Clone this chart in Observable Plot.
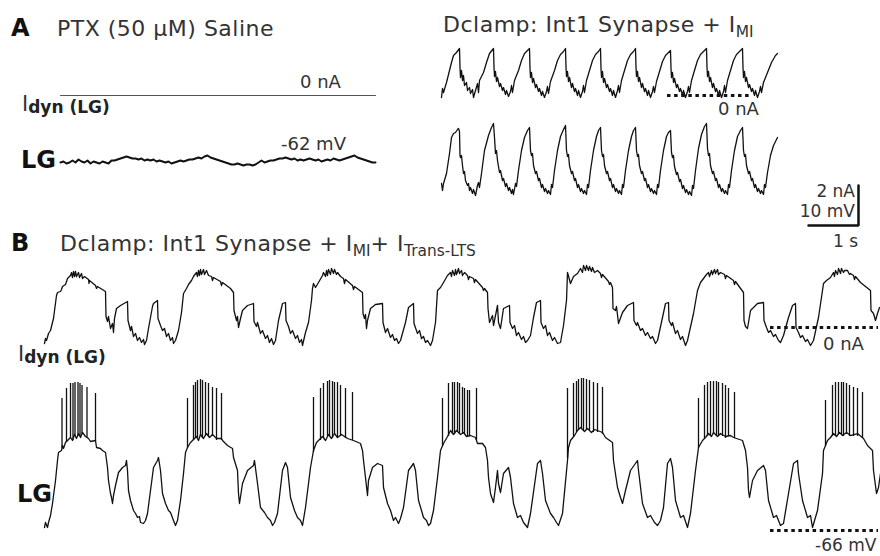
<!DOCTYPE html>
<html>
<head>
<meta charset="utf-8">
<script src="https://cdn.jsdelivr.net/npm/d3@7"></script>
<script src="https://cdn.jsdelivr.net/npm/@observablehq/plot@0.6"></script>
<style>
  body { margin: 0; background: #fff; }
  #fig { position: relative; width: 880px; height: 556px; overflow: hidden; background: #fff;
         font-family: "DejaVu Sans", sans-serif; color: #333; }
  .lbl { position: absolute; white-space: nowrap; line-height: 1; }
  .title { letter-spacing: 0.5px; }
  .bold { font-weight: bold; color: #111; }
  .sub { position: relative; font-size: 0.7em; top: 0.3em; letter-spacing: 0; }
  .subb { position: relative; font-size: 0.81em; top: 0.12em; font-weight: bold; color: #222; }
</style>
</head>
<body>
<div id="fig"></div>
<script>
// ---------------------------------------------------------------------------
// Recorded traces. Time in s, current in nA, voltage in mV.
// ---------------------------------------------------------------------------

// A, left: PTX saline, no dynamic-clamp current, LG resting near -62 mV
const restIdyn = [[0.40, 0], [6.70, 0]];
const restLG_t0 = 0.40;   // s, first sample
const restLG_dt = 0.06;   // s, sample interval
const restLG_mV = [
  -62.25, -62, -62.5, -62.25, -61.75, -62.25, -61.5, -62, -62.25, -61.75,
  -62.5, -62, -62.25, -62.5, -62, -62.25, -62.5, -61.75, -61.75, -61.5,
  -61.25, -61, -60.75, -61, -61.25, -61.25, -61.5, -61.25, -61.75, -61.5,
  -61.75, -61.5, -62, -61.75, -62, -62.25, -62, -62.5, -62.25, -62,
  -61.75, -62, -61.75, -61.5, -61.5, -61.25, -61, -61.25, -60.75, -60.5,
  -61, -61.25, -61.5, -61.75, -62, -62.25, -62.5, -62.75, -62.75, -62.5,
  -62.75, -63, -62.75, -62.75, -63, -62.75, -62.25, -61.75, -62.25, -62,
  -61.75, -61.75, -61.5, -61.25, -61.25, -61, -61.25, -61.5, -61.25, -61.75,
  -61.5, -61.75, -61.5, -61.25, -61.5, -61.75, -61.5, -62, -61.75, -61.5,
  -61.75, -61.25, -61.5, -61.75, -61.5, -61.25, -61, -60.75, -60.5, -61,
  -61.25, -61.5, -61.75, -62, -62.25, -62.25
];

// A, right: Int1 synapse + I_MI
const miIdyn = [
  [0.10,-0.10],[0.12,0.35],[0.14,0.15],[0.20,0.65],[0.26,1.25],[0.30,1.65],[0.34,2.00],[0.40,2.15],[0.46,2.35],
  [0.47,1.40],[0.48,0.90],[0.50,1.25],[0.52,0.75],[0.54,1.00],[0.56,0.50],[0.60,0.65],[0.62,0.25],[0.66,0.40],
  [0.68,0.10],[0.72,0.30],[0.74,-0.10],[0.78,0.25],[0.82,0.60],[0.84,0.15],[0.86,0.75],[0.94,1.15],[1.00,1.65],
  [1.06,2.10],[1.14,2.35],
  [1.15,1.40],[1.16,0.95],[1.18,1.20],[1.20,0.70],[1.22,0.90],[1.26,0.45],[1.28,0.60],[1.32,0.25],[1.34,0.40],
  [1.38,0.05],[1.40,0.25],[1.44,-0.05],[1.48,0.20],[1.50,0.50],[1.52,0.15],[1.56,0.75],[1.64,1.25],[1.70,1.75],
  [1.76,2.10],[1.82,2.25],[1.86,2.35],
  [1.87,1.35],[1.88,0.90],[1.90,1.15],[1.92,0.65],[1.94,0.85],[1.98,0.40],[2.00,0.55],[2.04,0.20],[2.06,0.35],
  [2.10,0.00],[2.12,0.20],[2.16,-0.10],[2.20,0.20],[2.22,0.45],[2.24,0.10],[2.28,0.70],[2.36,1.25],[2.42,1.75],
  [2.48,2.05],[2.54,2.20],[2.58,2.35],
  [2.59,1.40],[2.60,0.95],[2.62,1.20],[2.64,0.70],[2.66,0.90],[2.70,0.40],[2.72,0.60],[2.76,0.20],[2.78,0.35],
  [2.82,0.00],[2.84,0.25],[2.88,-0.10],[2.92,0.20],[2.94,0.50],[2.96,0.15],[3.00,0.75],[3.06,1.25],[3.12,1.75],
  [3.18,2.05],[3.24,2.20],[3.28,2.35],
  [3.29,1.35],[3.30,0.90],[3.32,1.20],[3.34,0.65],[3.36,0.85],[3.40,0.40],[3.42,0.55],[3.46,0.20],[3.48,0.35],
  [3.52,0.00],[3.54,0.25],[3.58,-0.10],[3.62,0.25],[3.64,0.50],[3.66,0.15],[3.70,0.75],[3.76,1.25],[3.82,1.75],
  [3.88,2.05],[3.94,2.20],[3.98,2.35],
  [3.99,1.40],[4.00,0.95],[4.02,1.20],[4.04,0.70],[4.06,0.90],[4.10,0.40],[4.12,0.60],[4.16,0.20],[4.18,0.35],
  [4.22,0.00],[4.24,0.25],[4.28,-0.10],[4.32,0.20],[4.34,0.45],[4.36,0.15],[4.40,0.70],[4.46,1.20],[4.52,1.70],
  [4.58,2.00],[4.64,2.15],[4.68,2.25],
  [4.69,1.35],[4.70,0.90],[4.72,1.15],[4.74,0.65],[4.76,0.85],[4.80,0.40],[4.82,0.55],[4.86,0.20],[4.88,0.35],
  [4.92,0.00],[4.94,0.25],[4.98,-0.10],[5.02,0.20],[5.04,0.45],[5.06,0.15],[5.10,0.75],[5.16,1.25],[5.22,1.75],
  [5.28,2.05],[5.34,2.20],[5.40,2.35],
  [5.41,1.40],[5.42,0.95],[5.44,1.20],[5.46,0.70],[5.48,0.90],[5.52,0.40],[5.54,0.60],[5.58,0.20],[5.60,0.35],
  [5.64,0.00],[5.66,0.25],[5.70,-0.10],[5.74,0.20],[5.76,0.50],[5.78,0.15],[5.82,0.75],[5.88,1.25],[5.94,1.75],
  [6.00,2.05],[6.06,2.20],[6.12,2.35],
  [6.13,1.40],[6.14,0.90],[6.16,1.20],[6.18,0.70],[6.20,0.90],[6.24,0.40],[6.26,0.55],[6.30,0.20],[6.32,0.35],
  [6.36,0.00],[6.38,0.25],[6.42,-0.10],[6.46,0.20],[6.48,0.45],[6.50,0.15],[6.54,0.65],[6.62,1.15],[6.70,1.65],
  [6.78,2.00],[6.82,2.10]
];

const miLG = [
  [0.10,-63.75],[0.12,-65.5],[0.14,-63.75],[0.20,-61.25],[0.26,-56.25],[0.30,-52.25],[0.34,-51.25],[0.38,-51],
  [0.42,-50.25],[0.44,-50],[0.46,-50.75],[0.47,-56.75],[0.48,-57.25],[0.50,-56.75],[0.52,-59.25],[0.54,-61.25],
  [0.56,-60.75],[0.58,-63],[0.62,-64.25],[0.64,-63.75],[0.66,-65.5],[0.68,-64.75],[0.72,-66.25],[0.74,-65.25],
  [0.78,-66.75],[0.82,-64.25],[0.84,-63.5],[0.86,-64.75],[0.90,-61.25],[0.96,-55.5],[1.04,-51.75],[1.10,-49.75],
  [1.14,-48.75],
  [1.16,-52.25],[1.18,-56.25],[1.20,-55.5],[1.22,-58],[1.26,-61],[1.28,-60.5],[1.32,-63],[1.34,-62.5],[1.38,-64.5],
  [1.40,-63.75],[1.44,-65.5],[1.46,-64.75],[1.50,-66.25],[1.52,-65.25],[1.54,-66.5],[1.58,-63.75],[1.60,-64.5],
  [1.64,-60.5],[1.70,-55.5],[1.76,-52.25],[1.82,-50.5],[1.86,-49.75],
  [1.88,-55.5],[1.90,-56.75],[1.92,-56.25],[1.94,-59.25],[1.98,-61.25],[2.00,-60.75],[2.04,-63],[2.06,-62.5],
  [2.10,-64.75],[2.12,-64],[2.16,-65.75],[2.18,-65],[2.22,-66.25],[2.24,-65.5],[2.28,-66.5],[2.30,-64],[2.32,-64.75],
  [2.36,-60.5],[2.42,-55.5],[2.48,-52],[2.54,-50.25],[2.58,-49.25],
  [2.60,-55.5],[2.62,-57],[2.64,-56.5],[2.66,-59.25],[2.70,-61.25],[2.72,-60.75],[2.76,-63],[2.78,-62.5],
  [2.82,-64.75],[2.84,-64],[2.88,-65.75],[2.90,-65],[2.94,-66.25],[2.96,-65.5],[3.00,-66.5],[3.02,-64],[3.04,-64.75],
  [3.08,-60.5],[3.14,-55.5],[3.20,-52],[3.24,-50.5],[3.28,-49.75],
  [3.30,-55.5],[3.32,-57],[3.34,-56.5],[3.36,-59.25],[3.40,-61.25],[3.42,-60.75],[3.46,-63],[3.48,-62.5],
  [3.52,-64.75],[3.54,-64],[3.58,-65.75],[3.60,-65],[3.64,-66.25],[3.66,-65.5],[3.70,-66.5],[3.72,-64],[3.74,-64.75],
  [3.78,-60.5],[3.84,-55.5],[3.90,-52],[3.94,-50.5],[3.98,-49.75],
  [4.00,-55.5],[4.02,-57],[4.04,-56.5],[4.06,-59.25],[4.10,-61.25],[4.12,-60.75],[4.16,-63],[4.18,-62.5],
  [4.22,-64.75],[4.24,-64],[4.28,-65.75],[4.30,-65],[4.34,-66.25],[4.36,-65.5],[4.40,-66.5],[4.42,-64],[4.44,-64.75],
  [4.48,-60.5],[4.54,-55.5],[4.60,-52],[4.64,-51],[4.68,-50.5],
  [4.70,-56],[4.72,-57.25],[4.74,-56.75],[4.76,-59.5],[4.80,-61.5],[4.82,-61],[4.86,-63.25],[4.88,-62.75],
  [4.92,-65],[4.94,-64.25],[4.98,-66],[5.00,-65.25],[5.04,-66.5],[5.06,-65.75],[5.10,-66.75],[5.12,-64.25],[5.14,-65],
  [5.18,-60.5],[5.24,-55],[5.30,-51.5],[5.36,-49.5],[5.40,-48.75],
  [5.42,-55],[5.44,-56.75],[5.46,-56.25],[5.48,-59.25],[5.52,-61.25],[5.54,-60.75],[5.58,-63],[5.60,-62.5],
  [5.64,-64.75],[5.66,-64],[5.70,-65.75],[5.72,-65],[5.76,-66.25],[5.78,-65.5],[5.82,-66.5],[5.84,-64],[5.86,-64.75],
  [5.90,-60.5],[5.96,-55.5],[6.02,-52],[6.08,-50.5],[6.12,-49.75],
  [6.14,-55.5],[6.16,-57],[6.18,-56.5],[6.20,-59.25],[6.24,-61.25],[6.26,-60.75],[6.30,-63],[6.32,-62.5],
  [6.36,-64.75],[6.38,-64],[6.42,-65.75],[6.44,-65],[6.48,-66.25],[6.50,-65.5],[6.54,-66.5],[6.56,-64],[6.58,-64.75],
  [6.62,-61],[6.68,-56.75],[6.74,-54.25],[6.82,-52.25]
];

// B: Int1 synapse + I_MI + I_Trans-LTS
const ltsIdyn = [
  [0.08,-0.80],[0.10,-0.55],[0.12,-0.65],[0.16,-0.30],[0.20,-0.15],[0.26,0.45],[0.32,1.60],[0.34,1.75],[0.40,1.80],
  [0.42,1.90],[0.44,2.05],[0.50,2.15],[0.54,2.45],[0.60,2.60],[0.62,2.75],[0.64,2.50],[0.66,2.80],[0.68,2.55],
  [0.70,2.80],[0.72,2.55],[0.76,2.75],[0.78,2.50],[0.82,2.70],[0.84,2.45],[0.88,2.55],[0.96,2.40],[0.97,2.20],
  [0.98,2.35],[1.10,2.10],[1.12,1.95],[1.14,2.05],[1.30,1.80],[1.31,0.55],[1.34,0.30],[1.36,0.55],[1.40,-0.05],
  [1.44,0.20],[1.46,-0.25],[1.48,0.45],[1.52,0.95],[1.60,1.10],[1.74,1.30],[1.75,0.35],[1.80,-0.15],[1.82,0.05],
  [1.86,-0.45],[1.90,-0.30],[1.94,-0.65],[1.98,-0.50],[2.02,-0.75],[2.06,-0.60],[2.08,-0.85],[2.12,-0.65],
  [2.16,-0.05],[2.24,1.05],[2.26,1.20],[2.34,1.35],[2.35,0.45],[2.40,0.10],[2.44,-0.15],[2.48,-0.05],[2.52,-0.45],
  [2.56,-0.30],[2.60,-0.65],[2.64,-0.50],[2.66,-0.80],[2.70,-0.65],[2.76,-0.15],[2.82,0.75],
  [2.86,1.70],[2.92,1.95],[2.96,2.15],[3.02,2.35],[3.06,2.55],[3.12,2.75],[3.14,2.55],[3.16,2.85],[3.18,2.60],
  [3.20,2.90],[3.22,2.65],[3.26,2.90],[3.28,2.65],[3.32,2.85],[3.36,2.60],[3.42,2.55],[3.44,2.35],[3.46,2.50],
  [3.60,2.30],[3.62,2.10],[3.64,2.25],[3.80,1.95],[3.86,1.75],[3.87,0.85],[3.92,0.35],[3.94,0.55],[3.96,0.00],
  [4.00,0.45],[4.04,0.85],[4.14,1.10],[4.26,1.20],[4.27,0.30],[4.32,0.05],[4.34,0.25],[4.40,-0.30],[4.44,-0.15],
  [4.50,-0.55],[4.54,-0.40],[4.58,-0.75],[4.62,-0.55],[4.66,-0.85],[4.70,-0.65],[4.76,0.35],[4.84,1.20],[4.90,1.25],
  [4.91,0.35],[4.96,0.05],[5.00,-0.30],[5.04,-0.15],[5.10,-0.55],[5.14,-0.40],[5.18,-0.75],[5.22,-0.60],[5.24,-0.90],
  [5.30,-0.25],[5.36,0.25],[5.42,1.35],
  [5.44,1.95],[5.46,2.20],[5.50,2.00],[5.56,2.25],[5.64,2.60],[5.66,2.75],[5.70,2.55],[5.72,2.85],[5.74,2.60],
  [5.76,2.90],[5.80,2.65],[5.82,2.95],[5.86,2.70],[5.88,2.90],[5.92,2.65],[5.94,2.75],[6.00,2.55],[6.06,2.45],
  [6.08,2.20],[6.10,2.40],[6.24,2.10],[6.26,1.90],[6.28,2.05],[6.44,1.75],[6.45,0.70],[6.48,0.45],[6.50,0.65],
  [6.52,-0.05],[6.54,0.35],[6.60,0.95],[6.70,1.15],[6.84,1.20],[6.85,0.25],[6.90,-0.25],[6.94,-0.05],[7.00,-0.50],
  [7.04,-0.35],[7.08,-0.65],[7.12,-0.55],[7.16,-0.80],[7.20,-0.65],[7.30,0.25],[7.36,1.00],[7.46,1.20],[7.47,0.20],
  [7.54,-0.30],[7.58,-0.15],[7.62,-0.55],[7.66,-0.45],[7.70,-0.75],[7.74,-0.65],[7.80,-0.90],[7.84,-0.65],[7.90,0.25],
  [7.94,1.85],[8.00,2.00],[8.06,2.25],[8.14,2.60],[8.20,2.75],[8.22,2.55],[8.24,2.85],[8.28,2.60],[8.30,2.90],
  [8.32,2.65],[8.36,2.95],[8.38,2.70],[8.42,2.85],[8.44,2.60],[8.48,2.75],[8.54,2.60],[8.56,2.40],[8.58,2.55],
  [8.66,2.45],[8.68,2.25],[8.70,2.40],[8.84,2.00],[8.86,1.85],[8.88,1.95],[8.94,1.75],[8.95,0.95],[8.98,0.25],
  [9.04,0.60],[9.06,0.10],[9.14,1.10],[9.16,0.25],[9.20,-0.05],[9.26,0.95],[9.38,1.10],[9.39,0.25],[9.44,-0.05],
  [9.48,0.10],[9.52,-0.40],[9.56,-0.25],[9.62,-0.60],[9.66,-0.45],[9.70,-0.75],[9.74,-0.65],[9.80,-0.40],[9.86,0.50],
  [9.92,1.25],[10.00,1.35],[10.01,0.25],[10.06,-0.05],[10.10,0.10],[10.14,-0.40],[10.18,-0.25],[10.24,-0.65],
  [10.28,-0.50],[10.34,-0.80],[10.40,-0.75],[10.46,0.10],[10.52,1.35],
  [10.54,2.75],[10.60,2.20],[10.66,2.55],[10.74,2.70],[10.80,2.95],[10.84,2.75],[10.86,3.10],[10.90,2.85],
  [10.92,3.10],[10.96,2.85],[10.98,3.05],[11.02,2.80],[11.04,3.00],[11.08,2.75],[11.14,2.85],[11.20,2.70],
  [11.22,2.50],[11.24,2.65],[11.36,2.30],[11.38,2.15],[11.40,2.25],[11.44,2.00],[11.45,0.95],[11.50,0.85],
  [11.52,1.05],[11.56,0.20],[11.64,0.75],[11.74,1.10],[11.86,1.25],[11.87,0.35],[11.92,0.10],[11.94,0.25],
  [12.00,-0.15],[12.04,-0.05],[12.10,-0.40],[12.14,-0.25],[12.20,-0.55],[12.24,-0.45],[12.30,-0.80],[12.34,-0.65],
  [12.44,0.50],[12.50,1.20],[12.56,1.25],[12.57,0.35],[12.62,0.10],[12.64,0.25],[12.70,-0.30],[12.74,-0.15],
  [12.80,-0.60],[12.84,-0.45],[12.90,-0.90],[12.94,-0.65],[13.06,0.70],[13.14,1.85],[13.20,2.25],
  [13.26,2.45],[13.32,2.65],[13.36,2.75],[13.38,2.55],[13.42,2.85],[13.44,2.65],[13.48,2.90],[13.50,2.70],
  [13.54,2.90],[13.56,2.65],[13.60,2.75],[13.68,2.65],[13.70,2.45],[13.72,2.60],[13.86,2.35],[13.88,2.15],
  [13.90,2.30],[14.06,1.75],[14.07,0.35],[14.10,0.05],[14.14,-0.05],[14.20,0.85],[14.34,1.20],[14.46,1.25],
  [14.47,0.35],[14.52,0.00],[14.56,-0.25],[14.60,-0.15],[14.66,-0.45],[14.70,-0.35],[14.76,-0.65],[14.80,-0.75],
  [14.86,-0.40],[14.96,0.50],[15.04,1.10],[15.10,1.20],[15.11,0.00],[15.16,-0.25],[15.20,-0.50],[15.24,-0.40],
  [15.30,-0.70],[15.34,-0.60],[15.40,-0.90],[15.46,-0.65],[15.56,0.50],[15.64,1.85],
  [15.66,2.20],[15.72,2.35],[15.80,2.50],[15.86,2.75],[15.88,2.55],[15.90,2.85],[15.94,2.65],[15.96,2.95],
  [16.00,2.70],[16.02,2.95],[16.06,2.75],[16.08,2.85],[16.14,2.85],[16.18,2.65],[16.20,2.70],[16.26,2.60],
  [16.28,2.40],[16.30,2.55],[16.40,2.25],[16.60,1.85],[16.61,0.85],[16.66,0.70],[16.70,0.35],[16.74,0.70],[16.78,1.00]
];

const ltsLG = [
  [0.08,-65.25],[0.10,-64],[0.14,-65.25],[0.16,-64],[0.20,-62.25],[0.24,-59.25],[0.30,-53.5],[0.34,-48.5],
  [0.36,-46.5],[0.42,-46],[0.44,-44.75],[0.46,-45.5],[0.50,-44],[0.54,-43.5],[0.60,-42.75],[0.64,-43.5],[0.68,-42],
  [0.72,-43],[0.76,-41.75],[0.80,-42.75],[0.84,-41.5],[0.90,-42.5],[0.96,-43],[1.00,-43.75],[1.10,-43.5],
  [1.12,-45.25],[1.20,-45.5],[1.24,-46],[1.30,-46.5],[1.34,-50.25],[1.36,-53.5],[1.40,-56.75],[1.42,-57.75],
  [1.44,-59.25],[1.46,-57.25],[1.50,-54.75],[1.56,-51.5],[1.64,-50.25],[1.70,-49.75],[1.72,-48.5],[1.74,-51],
  [1.76,-56],[1.80,-58.5],[1.86,-61],[1.90,-61.75],[1.94,-62.75],[1.98,-62.5],[2.00,-64],[2.06,-64.25],[2.10,-63.5],
  [2.14,-61.75],[2.20,-56],[2.26,-50.25],[2.34,-48.5],[2.36,-47.75],[2.40,-51],[2.44,-56.75],[2.50,-59.25],
  [2.56,-61],[2.60,-61.5],[2.66,-63.5],[2.70,-64.75],[2.74,-63.5],[2.80,-58.5],[2.86,-51.75],[2.90,-46.5],
  [2.94,-45.25],
  [3.00,-44],[3.06,-43.25],[3.12,-42.5],[3.16,-43.5],[3.20,-42],[3.26,-43],[3.32,-41.75],[3.38,-42.75],[3.44,-42],
  [3.52,-43],[3.62,-43],[3.64,-43.5],[3.74,-44.75],[3.84,-45.5],[3.86,-47.75],[3.94,-51],[3.96,-56.75],[3.98,-59.25],
  [4.04,-54.25],[4.14,-51],[4.26,-49.75],[4.28,-48.5],[4.34,-54.25],[4.40,-60.25],[4.48,-61.5],[4.54,-62.75],
  [4.60,-63.5],[4.64,-64.75],[4.68,-64],[4.74,-61.75],[4.84,-51],[4.90,-49],[4.94,-50.25],[5.00,-57.75],[5.08,-61],
  [5.14,-62.75],[5.20,-63.5],[5.24,-64.75],[5.30,-60.25],[5.40,-50.25],[5.46,-46],
  [5.52,-44],[5.58,-43.25],[5.64,-42.5],[5.70,-43.5],[5.76,-42],[5.82,-43],[5.88,-41.75],[5.94,-42.75],[6.02,-42],
  [6.14,-43],[6.26,-43.5],[6.40,-44.25],[6.44,-46],[6.46,-48.5],[6.50,-52.75],[6.54,-57.25],[6.56,-53.5],
  [6.64,-50.25],[6.74,-49.25],[6.84,-49.75],[6.86,-55.25],[6.94,-59.25],[7.00,-61],[7.06,-63.5],[7.10,-62.75],
  [7.16,-64.25],[7.20,-63],[7.26,-60.25],[7.36,-51],[7.46,-49.25],[7.50,-51],[7.56,-58.5],[7.62,-61],[7.66,-62.75],
  [7.72,-63.5],[7.76,-64.75],[7.80,-64.25],[7.86,-61],[7.94,-52.75],[8.00,-46],
  [8.06,-44.25],[8.14,-42.5],[8.20,-41],[8.26,-42],[8.32,-41],[8.40,-42],[8.46,-41.5],[8.52,-42.5],[8.60,-42.25],
  [8.70,-42.75],[8.74,-44.25],[8.84,-44.25],[8.90,-45.25],[8.94,-48.5],[8.96,-52.75],[9.00,-56.75],[9.06,-59],
  [9.10,-55.25],[9.14,-51],[9.16,-54.25],[9.20,-56.5],[9.26,-51.75],[9.36,-50.25],[9.40,-52.75],[9.46,-59.25],
  [9.54,-62.75],[9.60,-62.25],[9.66,-64],[9.74,-65.25],[9.80,-61.75],[9.94,-49.25],[10.00,-48.5],[10.04,-51.75],
  [10.10,-58.5],[10.20,-61.75],[10.26,-62.75],[10.32,-64],[10.36,-64.75],[10.44,-61.75],[10.54,-48.5],
  [10.56,-45.25],[10.60,-43.5],[10.68,-42.25],[10.74,-41],[10.80,-40.25],[10.88,-41.25],[10.94,-40.5],[11.02,-41.5],
  [11.08,-40.75],[11.14,-41],[11.24,-41.5],[11.30,-42.75],[11.44,-44],[11.46,-48.5],[11.54,-55.25],[11.60,-57.75],
  [11.64,-59.25],[11.70,-56],[11.80,-51],[11.94,-48.5],[11.96,-51],[12.04,-59.25],[12.14,-62.75],[12.20,-62.25],
  [12.28,-64],[12.34,-64.75],[12.40,-63.5],[12.46,-60.25],[12.54,-49.25],[12.60,-48],[12.64,-50.25],[12.70,-58.5],
  [12.80,-62.75],[12.86,-62.25],[12.94,-65.25],[13.00,-61.75],[13.10,-51],[13.16,-45.25],
  [13.24,-43.5],[13.30,-42.75],[13.36,-41.75],[13.42,-42.5],[13.46,-41.5],[13.54,-42.5],[13.60,-41.75],[13.70,-42.5],
  [13.80,-42.25],[13.86,-42.75],[14.04,-43.5],[14.10,-46],[14.14,-50.25],[14.16,-56],[14.18,-57.75],[14.24,-53.5],
  [14.34,-51],[14.46,-49.75],[14.50,-51],[14.56,-58.5],[14.66,-62.75],[14.72,-62.25],[14.80,-64.75],[14.86,-64.25],
  [14.96,-56.75],[15.06,-49.25],[15.14,-48.5],[15.16,-51.75],[15.24,-58.5],[15.34,-62.75],[15.40,-62.25],
  [15.44,-65.25],[15.54,-61],[15.64,-51.75],[15.66,-46],
  [15.74,-43.5],[15.80,-42.75],[15.86,-41.75],[15.92,-42.5],[15.98,-41.5],[16.04,-42.25],[16.12,-41.5],[16.20,-42.25],
  [16.34,-41.75],[16.46,-43],[16.54,-44.75],[16.64,-46],[16.66,-51],[16.72,-56.75],[16.76,-55.25],[16.80,-51.75]
];

// LG action potentials during each burst: [time, base, peak]
const ltsSpikes = [
  [0.43,-45.5,-33],[0.52,-44,-30.5],[0.60,-43,-29.25],[0.65,-43.5,-29.25],[0.69,-42.5,-29],[0.75,-42.5,-29],
  [0.79,-42.5,-29.25],[0.83,-42,-29.75],[0.93,-43,-30.25],[1.10,-43.75,-31.75],
  [2.94,-45.5,-33],[3.06,-43.5,-29.75],[3.10,-43,-29],[3.14,-43,-28.5],[3.20,-42.5,-28.25],[3.24,-43,-28.5],
  [3.30,-42.5,-29],[3.36,-42.5,-29.25],[3.44,-42.5,-30.25],[3.52,-43.5,-30.5],[3.62,-43.5,-31.75],
  [5.46,-46.5,-32.75],[5.60,-43.5,-30.5],[5.66,-43,-29.25],[5.74,-42.5,-28.75],[5.78,-42.5,-28.5],[5.84,-43,-28.75],
  [5.88,-42,-29],[5.94,-43,-29],[6.00,-42.5,-29.75],[6.10,-43,-30.5],[6.24,-43.5,-31.5],
  [8.04,-45,-33],[8.16,-42.5,-29.25],[8.24,-42,-29],[8.28,-42,-29],[8.34,-41.5,-29],[8.38,-42,-29.25],
  [8.44,-42,-30.25],[8.48,-42,-30.5],[8.54,-42.5,-31],[8.58,-42.5,-31],[8.72,-43.5,-30.5],
  [10.54,-48,-30.5],[10.66,-42.5,-29.25],[10.72,-41.5,-28.75],[10.76,-41,-28.25],[10.82,-40.75,-28],[10.86,-41,-28],
  [10.92,-41,-28.25],[10.98,-41,-28.5],[11.06,-41.5,-29],[11.14,-41.5,-29.25],[11.24,-42,-30.25],
  [13.16,-45.5,-33],[13.28,-43,-29.75],[13.34,-42.5,-29],[13.40,-42.5,-28.75],[13.46,-42,-28.75],[13.52,-42.5,-28.75],
  [13.56,-42.5,-29],[13.64,-42.5,-29.25],[13.70,-43,-29.75],[13.76,-42.5,-30.5],[13.88,-43,-31.5],
  [15.70,-45,-33.5],[15.84,-42.5,-29.75],[15.90,-42.5,-29],[15.96,-42,-29],[16.02,-42,-29],[16.06,-42.5,-29],
  [16.12,-42,-29.25],[16.18,-42.5,-29.75],[16.26,-42.5,-30.25],[16.34,-42.5,-30.5],[16.44,-43,-31.5]
];

// Dotted reference levels: [start s, end s, level]
const miZeroCurrent = [[4.62, 6.32, 0]];     // 0 nA
const ltsZeroCurrent = [[14.60, 16.76, 0]];  // 0 nA
const ltsRestLevel = [[14.60, 16.76, -66]];  // -66 mV

// Scale bar: 1 s, 10 mV (also 2 nA)
const scaleBar = [[0.56, 0], [1.56, 0], [1.56, 10]];

// ---------------------------------------------------------------------------
// Drawing
// ---------------------------------------------------------------------------
const fig = document.getElementById("fig");
const PX_PER_S = 50;          // horizontal time scale shared by every trace
const INK = "#111";

function panel({left, top, width, height, y, marks}) {
  const svg = Plot.plot({
    width, height,
    marginTop: 0, marginRight: 0, marginBottom: 0, marginLeft: 0,
    x: {domain: [0, width / PX_PER_S], axis: null},
    y: {domain: y, axis: null},
    style: {background: "transparent", overflow: "visible"},
    marks
  });
  svg.style.position = "absolute";
  svg.style.left = left + "px";
  svg.style.top = top + "px";
  fig.append(svg);
}

const trace = (data, w = 1.3) =>
  Plot.line(data, {x: d => d[0], y: d => d[1], stroke: INK, strokeWidth: w, strokeLinejoin: "round"});
const dotted = (data) =>
  Plot.ruleY(data, {x1: d => d[0], x2: d => d[1], y: d => d[2], stroke: INK, strokeWidth: 3, strokeDasharray: "3.5,3.6"});

// A, left
panel({left: 40, top: 80, width: 350, height: 30, y: [-0.75, 0.75],
  marks: [Plot.line(restIdyn, {x: d => d[0], y: d => d[1], stroke: "#555", strokeWidth: 1})]});
panel({left: 40, top: 140, width: 350, height: 40, y: [-66.75, -56.75],
  marks: [Plot.line(restLG_mV, {x: (d, i) => restLG_t0 + i * restLG_dt, y: d => d, stroke: INK, strokeWidth: 2})]});

// A, right
panel({left: 436, top: 40, width: 350, height: 70, y: [-0.75, 2.75],
  marks: [trace(miIdyn), dotted(miZeroCurrent)]});
panel({left: 436, top: 115, width: 350, height: 85, y: [-68, -46.75],
  marks: [trace(miLG)]});

// scale bar
panel({left: 780, top: 180, width: 100, height: 50, y: [-1.25, 11.25],
  marks: [Plot.line(scaleBar, {x: d => d[0], y: d => d[1], stroke: INK, strokeWidth: 2.5, strokeLinejoin: "miter"})]});

// B
panel({left: 40, top: 250, width: 840, height: 110, y: [-1.65, 3.85],
  marks: [trace(ltsIdyn), dotted(ltsZeroCurrent)]});
panel({left: 40, top: 365, width: 840, height: 180, y: [-69.75, -24.75],
  marks: [
    Plot.ruleX(ltsSpikes, {x: d => d[0], y1: d => d[1], y2: d => d[2], stroke: INK, strokeWidth: 1.3}),
    trace(ltsLG),
    dotted(ltsRestLevel)
  ]});

// ---------------------------------------------------------------------------
// Labels
// ---------------------------------------------------------------------------
const ASC = 0.846;  // baseline position inside a line-height:1 box (DejaVu Sans)
function label(html, x, baseline, size, cls = "", alignRight = false) {
  const d = document.createElement("div");
  d.className = "lbl " + cls;
  if (alignRight) d.style.right = (880 - x) + "px"; else d.style.left = x + "px";
  d.style.top = (baseline - ASC * size) + "px";
  d.style.fontSize = size + "px";
  d.innerHTML = html;
  fig.append(d);
}
const idyn = 'I<span class="subb">dyn (LG)</span>';

label("A", 11, 36, 24, "bold");
label("PTX (50 μM) Saline", 57, 37, 22, "title");
label('Dclamp: Int1 Synapse + I<span class="sub">MI</span>', 443, 33, 22, "title");
label(idyn, 22, 112, 21);
label("0 nA", 300, 88, 18);
label("LG", 21, 168, 24, "bold");
label("-62 mV", 281, 150, 18);
label("0 nA", 718, 115, 18);
label("2 nA", 855, 197, 17, "", true);
label("10 mV", 855, 217, 17, "", true);
label("1 s", 833, 247, 17);

label("B", 11, 251, 24, "bold");
label('Dclamp: Int1 Synapse + I<span class="sub">MI</span>+ I<span class="sub">Trans-LTS</span>', 60, 252, 22, "title");
label(idyn, 18, 362, 21);
label("0 nA", 823, 350, 18);
label("LG", 17, 502, 24, "bold");
label("-66 mV", 815, 551, 17);
</script>
</body>
</html>
